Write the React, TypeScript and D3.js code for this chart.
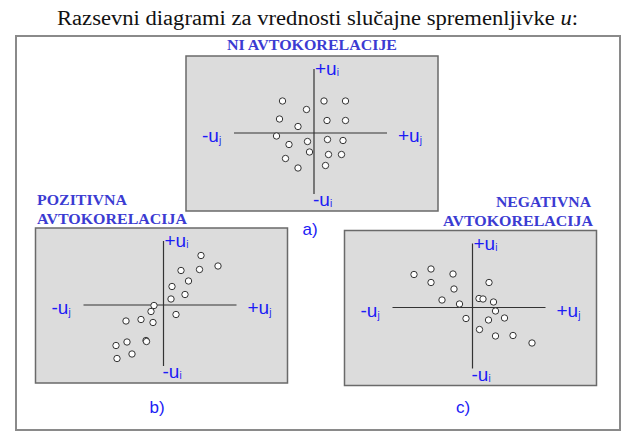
import * as d3 from "d3";
import React from "react";

// scatter values (u_j, u_i), one panel each
const noAutoX = [-6.3, 2.0, 6.3, -1.5, -6.9, 2.6, 6.3, -3.2, -7.5, -1.3, 2.7, 5.8, -5.0, -0.9, 2.9, 5.5, -5.7, 2.3, -3.2];
const noAutoY = [6.4, 6.4, 6.4, 4.7, 2.8, 2.5, 2.5, 1.3, -0.6, -1.7, -1.3, -1.5, -2.3, -3.8, -4.3, -4.3, -5.1, -6.5, -7.0];

const posAutoX = [7.5, 10.9, 3.5, 7.2, 5.0, 1.7, 4.3, 1.5, -1.9, -2.5, 2.5, -4.5, -2.1, -7.5, -3.5, -3.4, -7.3, -9.5, -6.3, -9.3];
const posAutoY = [9.9, 7.8, 6.9, 7.1, 4.8, 3.7, 2.1, 1.2, -0.1, -1.3, -1.9, -2.9, -3.5, -3.2, -7.1, -7.3, -7.4, -8.1, -9.8, -10.7];

const negAutoX = [-11.7, -8.3, -3.9, -8.3, 3.3, -3.7, -6.1, 1.3, 2.1, 4.2, -2.6, 4.6, -1.3, 3.2, 6.4, 1.4, 4.6, 8.1, 11.9];
const negAutoY = [6.6, 7.7, 6.7, 5.0, 5.0, 3.7, 1.5, 1.8, 1.7, 1.1, 0.7, -0.7, -2.2, -2.5, -2.1, -4.4, -5.7, -5.6, -7.1];

const mainTitle = "Razsevni diagrami za vrednosti slučajne spremenljivke ";
const panelTitles = [["NI AVTOKORELACIJE"], ["POZITIVNA", "AVTOKORELACIJA"], ["NEGATIVNA", "AVTOKORELACIJA"]];
const captions = ["a)", "b)", "c)"];

const width = 635;
const height = 435;
const blue = "#1c1cf5";
const titleBlue = "#3b3bd2";
const sans = "'Liberation Sans', Arial, sans-serif";
const serif = "'Liberation Serif', 'DejaVu Serif', serif";

const panels = [
  { ox: 314, oy: 133, xs: noAutoX, ys: noAutoY },
  { ox: 163.5, oy: 305, xs: posAutoX, ys: posAutoY },
  { ox: 472.5, oy: 307.5, xs: negAutoX, ys: negAutoY },
];

function Panel({ ox, oy, xs, ys, caption }: any) {
  const x = d3.scaleLinear().domain([-16, 14.6]).range([ox - 80, ox + 73]);
  const y = d3.scaleLinear().domain([-12.2, 12.8]).range([oy + 61, oy - 64]);
  const [x0, x1] = x.range();
  const [y0, y1] = y.range();
  return (
    <g>
      <rect x={ox - 128} y={oy - 77} width={252} height={155} fill="#dcdcdc" stroke="#6a6a6a" strokeWidth={1.5} />
      <line x1={x0} x2={x1} y1={y(0)} y2={y(0)} stroke="#333" strokeWidth={1.2} />
      <line x1={x(0)} x2={x(0)} y1={y0} y2={y1} stroke="#333" strokeWidth={1.2} />
      {xs.map((v: number, i: number) => (
        <circle key={i} cx={x(v)} cy={y(ys[i])} r={3.2} fill="#fff" stroke="#333" strokeWidth={1} />
      ))}
      <g fill={blue} style={{ fontFamily: sans, fontSize: 19 }}>
        <text x={x(0) + 1} y={y1 + 6}>+u<tspan fontSize={10} dy={1}>i</tspan></text>
        <text x={x(0) - 1} y={y0 + 12}>-u<tspan fontSize={10} dy={1}>i</tspan></text>
        <text x={ox - 112} y={oy + 9}>-u<tspan fontSize={10} dy={2}>j</tspan></text>
        <text x={ox + 84} y={oy + 9}>+u<tspan fontSize={10} dy={2}>j</tspan></text>
      </g>
      <text x={caption.x} y={caption.y} fill={blue} textAnchor="middle" style={{ fontFamily: sans, fontSize: 17 }}>
        {caption.label}
      </text>
    </g>
  );
}

export default function App() {
  const captionPos = [
    { x: 310, y: 235 },
    { x: 157, y: 413 },
    { x: 463, y: 413 },
  ];
  return (
    <svg width={width} height={height} style={{ position: "absolute", left: 0, top: 0, background: "#fff" }}>
      <text x={57} y={25} textLength={521} lengthAdjust="spacingAndGlyphs" fill="#111" style={{ fontFamily: serif, fontSize: 20.5 }}>
        {mainTitle}
        <tspan fontStyle="italic">u</tspan>:
      </text>
      <rect x={16} y={36} width={604} height={394} fill="#fff" stroke="#8a8a8a" strokeWidth={2} />

      <g fill={titleBlue} style={{ fontFamily: serif, fontSize: 14, fontWeight: "bold" }}>
        <text x={227} y={50} textLength={170} lengthAdjust="spacingAndGlyphs">{panelTitles[0][0]}</text>
        <text x={37} y={205} textLength={90} lengthAdjust="spacingAndGlyphs">{panelTitles[1][0]}</text>
        <text x={37} y={224} textLength={150} lengthAdjust="spacingAndGlyphs">{panelTitles[1][1]}</text>
        <text x={496} y={207} textLength={95} lengthAdjust="spacingAndGlyphs">{panelTitles[2][0]}</text>
        <text x={443} y={226} textLength={150} lengthAdjust="spacingAndGlyphs">{panelTitles[2][1]}</text>
      </g>

      {panels.map((p, i) => (
        <Panel key={i} {...p} caption={{ ...captionPos[i], label: captions[i] }} />
      ))}
    </svg>
  );
}
